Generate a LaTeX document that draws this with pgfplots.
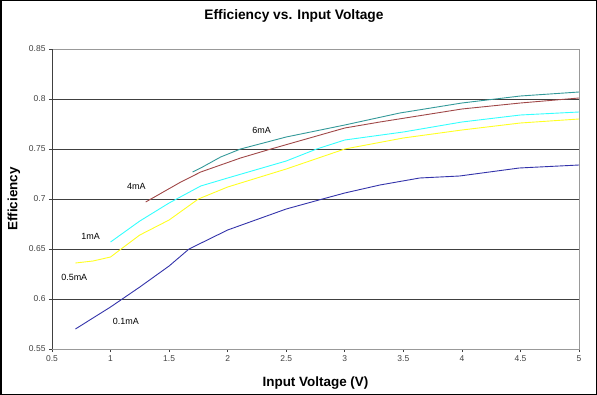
\documentclass[border=0pt]{standalone}
\usepackage{pgfplots}
\pgfplotsset{compat=1.18}
\usepackage{fontspec}
\setmainfont{Liberation Sans}
\definecolor{c01}{HTML}{3333AA}
\definecolor{c05}{HTML}{FFFF22}
\definecolor{c1}{HTML}{33FFFF}
\definecolor{c4}{HTML}{A04848}
\definecolor{c6}{HTML}{339999}
\definecolor{tk}{HTML}{404040}
\begin{document}
\begin{tikzpicture}
\draw[black, line width=1.5bp] (0.75bp,0.75bp) rectangle (596.25bp,394.25bp);
\node[font=\bfseries\fontsize{13.8}{16}\selectfont] at (294bp,379bp) {Efficiency vs. Input Voltage};
\begin{axis}[
  at={(52bp,46bp)}, anchor=south west,
  width=527bp, height=300bp, scale only axis,
  xmin=0.5, xmax=5, ymin=0.55, ymax=0.85,
  xtick={0.5,1,...,5}, ytick={0.55,0.6,...,0.85},
  xticklabels={0.5,1,1.5,2,2.5,3,3.5,4,4.5,5},
  yticklabels={0.55,0.6,0.65,0.7,0.75,0.8,0.85},
  tick label style={font=\fontsize{8.5}{10}\selectfont, text=tk},
  /pgf/number format/assume math mode=true,
  tick align=outside, tick pos=left,
  major tick length=3bp,
  tick style={tk, line width=0.6bp},
  axis line style={draw=none},
  ymajorgrids, grid style={tk, line width=0.8bp},
  xlabel={Input Voltage (V)}, ylabel={Efficiency},
  label style={font=\bfseries\fontsize{13.5}{16}\selectfont},
  xlabel style={at={(axis description cs:0.5,0)}, anchor=center, yshift=-34bp},
  ylabel style={at={(axis description cs:0,0.5)}, anchor=center, yshift=38bp},
  clip=false,
  every axis plot/.append style={line width=0.9bp},
]
\draw[gray!80, line width=0.8bp] (axis cs:0.5,0.85) -- (axis cs:5,0.85) -- (axis cs:5,0.55) -- (axis cs:0.5,0.55);
\draw[tk, line width=0.8bp] (axis cs:0.5,0.55) -- (axis cs:0.5,0.85);
\addplot[c01] coordinates {(0.7,0.570) (1.0,0.592) (1.25,0.612) (1.5,0.633) (1.67,0.650) (2.0,0.669) (2.5,0.690) (2.81,0.700) (3.0,0.706) (3.3,0.714) (3.64,0.721) (3.98,0.723) (4.49,0.731) (5.0,0.734)};
\addplot[c05] coordinates {(0.7,0.636) (0.85,0.638) (1.0,0.642) (1.09,0.650) (1.25,0.664) (1.5,0.679) (1.75,0.700) (2.0,0.712) (2.5,0.730) (3.0,0.750) (3.5,0.761) (4.0,0.769) (4.5,0.776) (5.0,0.780)};
\addplot[c1] coordinates {(1.0,0.657) (1.25,0.678) (1.5,0.696) (1.77,0.713) (2.0,0.721) (2.5,0.738) (2.76,0.750) (3.0,0.759) (3.5,0.767) (4.0,0.777) (4.5,0.784) (5.0,0.787)};
\addplot[c4] coordinates {(1.3,0.697) (1.6,0.717) (1.77,0.727) (2.11,0.741) (2.34,0.749) (3.0,0.771) (3.3,0.777) (4.0,0.790) (4.5,0.796) (5.0,0.801)};
\addplot[c6] coordinates {(1.7,0.727) (1.77,0.731) (1.94,0.742) (2.11,0.750) (2.5,0.762) (3.0,0.774) (3.47,0.786) (4.0,0.796) (4.5,0.803) (5.0,0.807)};
\node[font=\fontsize{9}{10}\selectfont] at (axis cs:2.29,0.769) {6mA};
\node[font=\fontsize{9}{10}\selectfont] at (axis cs:1.22,0.713) {4mA};
\node[font=\fontsize{9}{10}\selectfont] at (axis cs:0.83,0.663) {1mA};
\node[font=\fontsize{9}{10}\selectfont] at (axis cs:0.69,0.622) {0.5mA};
\node[font=\fontsize{9}{10}\selectfont] at (axis cs:1.13,0.578) {0.1mA};
\end{axis}
\useasboundingbox (0,0) rectangle (597bp,395bp);
\end{tikzpicture}
\end{document}
